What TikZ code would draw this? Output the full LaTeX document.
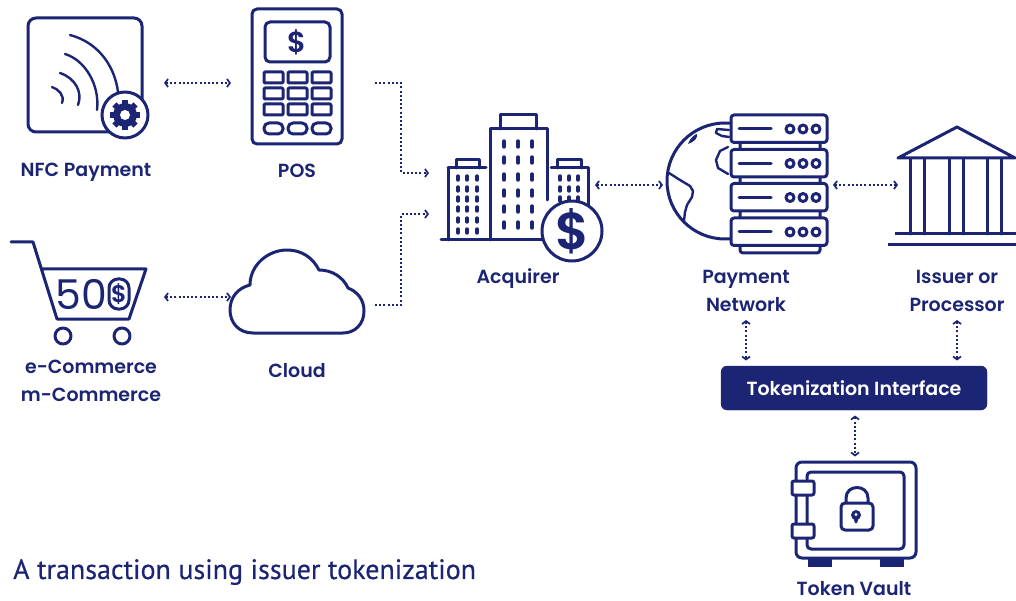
\documentclass[tikz,border=0pt]{standalone}
\usepackage{fontspec}
\usepackage{tikz}
\usetikzlibrary{arrows.meta,calc}
\setmainfont{Poppins}[BoldFont={Poppins SemiBold}]
\newfontfamily\titlefont{PT Sans}[FakeBold=0.4]
\definecolor{navy}{HTML}{1C2474}
\tikzset{
	iconbox/.style={inner sep=0pt,outer sep=0pt,minimum width=#1},
	icon/.style={draw=navy,line width=3pt,line cap=round,line join=round},
	thinicon/.style={icon,line width=2.4pt},
	link/.style={navy,line width=2pt,dash pattern=on 2pt off 2.2pt,line cap=butt},
	both/.style={link,{Straight Barb[length=3pt,width=8pt,line width=1.7pt]}-{Straight Barb[length=3pt,width=8pt,line width=1.7pt]}},
	onto/.style={link,-{Straight Barb[length=3pt,width=8pt,line width=1.7pt]}},
	caption/.style={navy,font=\fontsize{19}{28}\selectfont\bfseries,align=center,inner sep=0pt},
	cash/.style={navy,font=\fontsize{#1}{#1}\selectfont\bfseries,inner sep=0pt}
}
\begin{document}
\begin{tikzpicture}[x=1pt,y=-1pt]
		\useasboundingbox (0,0) rectangle (1016,601);
		\node[iconbox=152pt] (nfc) at (88,83) {};
		\node[iconbox=144pt] (pos) at (303,83) {};
		\node[iconbox=152pt] (cart) at (88,297) {};
		\node[iconbox=144pt] (cloud) at (303,297) {};
		\node[iconbox=166pt] (acquirer) at (512,185) {};
		\node[iconbox=166pt,minimum height=270pt] (network) at (746,185) {};
		\node[iconbox=118pt,minimum height=270pt] (issuer) at (957,185) {};
		\node[iconbox=10pt,minimum height=1pt] (vault) at (855,457) {};
		\node[fill=navy,draw=navy,rounded corners=6pt,text=white,font=\fontsize{19}{22}\selectfont\bfseries,minimum width=266pt,minimum height=44pt,inner sep=0pt,outer ysep=5.5pt] (iface) at (854,388) {Tokenization Interface};

		\draw[icon,rounded corners=8pt] (28,18) rectangle (142,132);
		\draw[thinicon] (70,35) .. controls (100,43) and (115,68) .. (118,92);
		\draw[thinicon] (65,54) .. controls (85,60) and (100,85) .. (97,110);
		\draw[thinicon] (60,73) .. controls (75,78) and (83,92) .. (78,105);
		\draw[thinicon] (52,87) .. controls (58,89) and (65,95) .. (62,103);
		\draw[icon,fill=white] (125,115) circle (23);
		\fill[navy] (125,115) circle (12);
		\foreach \a in {0,45,...,315}
			\fill[navy,rotate around={\a:(125,115)}] (122,100) rectangle (128,106);
		\fill[white] (125,115) circle (5);

		\draw[icon,rounded corners=5pt] (252,9) rectangle (342,144);
		\draw[icon,rounded corners=5pt] (265,22) rectangle (330,62);
		\node[cash=29] (posdollar) at (297,42) {\$};
		\foreach \x in {264,288,312}{
			\foreach \y in {72,88,104}
				\draw[icon,rounded corners=1pt] (\x,\y) rectangle (\x+19,\y+11);
			\draw[icon,rounded corners=5pt] (\x,123) rectangle (\x+19,134);
		}

		\draw[icon] (11,242) -- (33,242) -- (57,319) -- (129,319) -- (146,269) -- (42,269);
		\draw[icon] (63,336) circle (8);
		\draw[icon] (122,336) circle (8);
		\node[navy,font=\fontsize{41}{41}\selectfont,inner sep=0pt] (amount) at (81,294) {50};
		\draw[icon,rounded corners=9pt] (109,279) rectangle (129,309);
		\node[cash=24] (cartdollar) at (119,294) {\$};

		\draw[icon] (253,333) .. controls (238,333) and (230,322) .. (230,310) .. controls (230,297) and (238,288) .. (250,285) .. controls (250,265) and (268,250) .. (287,250) .. controls (302,250) and (313,258) .. (319,270) .. controls (332,270) and (343,277) .. (348,288) .. controls (358,292) and (364,300) .. (364,311) .. controls (364,324) and (355,333) .. (343,333) -- cycle;

		\draw[icon] (441,240) -- (545,240);
		\draw[icon] (448,240) -- (448,168);
		\draw[icon] (448,168) -- (486,168);
		\draw[icon] (456,168) -- (456,160) -- (479,160) -- (479,168);
		\draw[icon] (490,240) -- (490,129) -- (547,129) -- (547,200);
		\draw[icon] (500,129) -- (500,115) -- (536,115) -- (536,129);
		\draw[icon] (551,168) -- (588,168) -- (588,205);
		\draw[icon] (557,168) -- (557,160) -- (581,160) -- (581,168);
		\foreach \x in {458,467,477}
			\foreach \y in {178,189,199,209,220,231}
				\draw[navy,line width=3.4pt,line cap=round] (\x,\y-2) -- (\x,\y+2);
		\foreach \x in {504,518,532}
			\foreach \y in {144,160,177,193,209,225}
				\draw[navy,line width=3.4pt,line cap=round] (\x,\y-3) -- (\x,\y+3);
		\foreach \x in {560,569,578}
			\foreach \y in {178,189,199}
				\draw[navy,line width=3.4pt,line cap=round] (\x,\y-2) -- (\x,\y+2);
		\draw[icon,fill=white] (572,231) circle (30);
		\node[cash=52] (bigdollar) at (572,231) {\$};

		\draw[icon] (725,181) circle (58);
		\fill[navy] (688,144) .. controls (690,138) and (695,134) .. (697,134) .. controls (698,138) and (694,142) .. (688,144) -- cycle;
		\draw[thinicon] (669,173) -- (680,180) -- (690,186) -- (693,191) -- (692,197) -- (687,205) -- (685,212) -- (684,221);
		\draw[thinicon] (729,130) -- (717,129) -- (716,133) -- (722,136) -- (729,137);
		\draw[thinicon] (728,147) -- (720,151) -- (716,160) -- (718,168) -- (728,174);
		\draw[icon,fill=white,rounded corners=3pt] (740,130) rectangle (820,253);
		\foreach \y in {115,149.5,183.5,218}{
			\draw[icon,fill=white,rounded corners=3pt] (731,\y) rectangle (827,\y+27.5);
			\draw[icon] (739,\y+14) -- (771,\y+14);
			\foreach \x in {790,803,816}
				\draw[icon] (\x,\y+14) circle (4);
		}

		\draw[icon] (957,127) -- (898,158) -- (1015,158) -- cycle;
		\foreach \x in {910,924,949,963,987,1001}
			\draw[icon] (\x,159) -- (\x,234);
		\draw[icon,line cap=butt] (895,234) -- (1016,234);
		\draw[icon,line cap=butt] (888,245) -- (1016,245);

		\draw[icon,rounded corners=6pt] (796,462) rectangle (916,558);
		\draw[icon,rounded corners=4pt] (807,472) rectangle (904,549);
		\draw[icon,fill=white,rounded corners=2pt] (792,481) rectangle (814,495);
		\draw[icon,fill=white,rounded corners=2pt] (792,524) rectangle (814,538);
		\fill[navy] (808,558) rectangle (832,567);
		\fill[navy] (880,558) rectangle (904,567);
		\draw[icon,rounded corners=4pt] (841,503) rectangle (873,530);
		\draw[icon] (846,503) -- (846,498) .. controls (846,484) and (868,484) .. (868,498) -- (868,503);
		\fill[navy] (856,515) circle (5);
		\fill[navy] (853,517) -- (859,517) -- (857,523) -- (855,523) -- cycle;
		\fill[white] (856,514.5) circle (1.6);

		\draw[both] (nfc.east) -- (pos.west);
		\draw[both] (cart.east) -- (cloud.west);
		\draw[onto] (pos.east) -| (401,173) -- ($(acquirer.west)+(0,-12)$);
		\draw[onto] ($(cloud.east)+(0,8)$) -| (401,214) -- ($(acquirer.west)+(0,29)$);
		\draw[both] (acquirer.east) -- (network.west);
		\draw[both] ($(network.east)+(4,0)$) -- (issuer.west);
		\draw[both] (network.south) -- (network.south |- iface.north);
		\draw[both] (issuer.south) -- (issuer.south |- iface.north);
		\draw[both] ($(iface.south)+(1,0)$) -- (vault.north);

		\node[caption] (nfclabel) at (86,172) {NFC Payment};
		\node[caption] (poslabel) at (297,171) {POS};
		\node[caption] (cartlabel) at (91,381) {e-Commerce\\m-Commerce};
		\node[caption] (cloudlabel) at (297,371) {Cloud};
		\node[caption] (acquirerlabel) at (518,279) {Acquirer};
		\node[caption] (networklabel) at (746,291) {Payment\\Network};
		\node[caption] (issuerlabel) at (957,291) {Issuer or\\Processor};
		\node[caption] (vaultlabel) at (854,589) {Token Vault};
		\node[navy,anchor=west,inner sep=0pt,font=\titlefont\fontsize{28}{30}\selectfont] (title) at (13,572) {A transaction using issuer tokenization};
	\end{tikzpicture}
\end{document}
